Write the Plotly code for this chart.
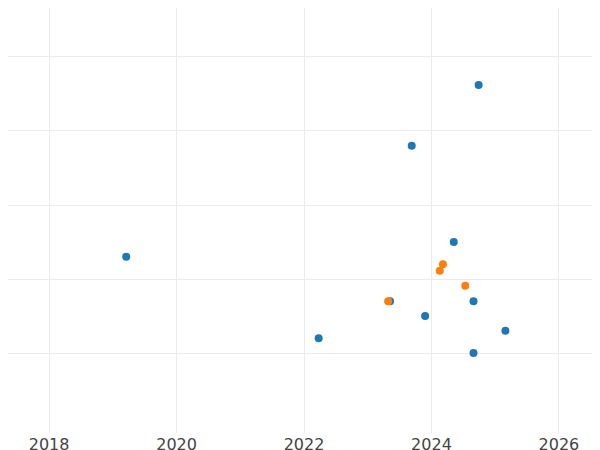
import plotly.graph_objects as go

blue_x = [2024.74, 2023.69, 2019.21, 2024.35, 2023.35, 2024.66, 2023.90, 2022.23, 2025.16, 2024.66]
blue_y = [4.62, 3.80, 2.30, 2.50, 1.70, 1.70, 1.50, 1.20, 1.30, 1.00]
orange_x = [2024.18, 2024.13, 2024.53, 2023.32]
orange_y = [2.20, 2.11, 1.91, 1.70]

fig = go.Figure()
fig.add_trace(go.Scatter(x=blue_x, y=blue_y, mode="markers", marker=dict(color="#1f77b4", size=8)))
fig.add_trace(go.Scatter(x=orange_x, y=orange_y, mode="markers", marker=dict(color="#ff7f0e", size=8)))
fig.update_layout(
    width=600, height=450, showlegend=False,
    margin=dict(l=0, r=0, t=0, b=25),
    plot_bgcolor="white", paper_bgcolor="white",
    font=dict(family="DejaVu Sans", size=16, color="#444"),
    xaxis=dict(range=[2017.355, 2026.77], tickvals=[2018, 2020, 2022, 2024, 2026],
               showgrid=True, gridcolor="#ebebeb", zeroline=False, showline=False),
    yaxis=dict(range=[-0.081, 5.662], tickvals=[1, 2, 3, 4, 5], showticklabels=False,
               showgrid=True, gridcolor="#ebebeb", zeroline=False, showline=False),
)
fig.write_html("out.html")
